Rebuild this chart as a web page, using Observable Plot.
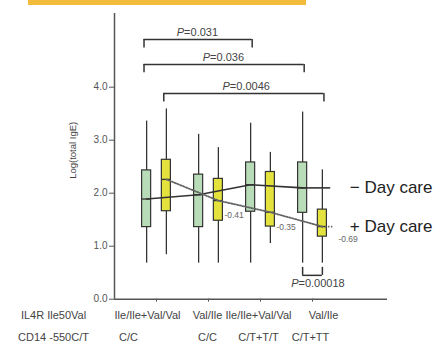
<!DOCTYPE html>
<html>
<head>
<meta charset="utf-8">
<script src="https://cdn.jsdelivr.net/npm/d3@7"></script>
<script src="https://cdn.jsdelivr.net/npm/@observablehq/plot@0.6"></script>
<style>
  html, body { margin: 0; padding: 0; background: #fff; }
  #wrap { position: relative; width: 440px; height: 347px; overflow: hidden; }
  #band { position: absolute; top: 0; left: 28px; width: 278px; height: 5px; background: #f2bb3b; }
  svg { display: block; }
</style>
</head>
<body>
<div id="wrap"><div id="band"></div></div>
<script>
// ---- data ----
const groups = [1, 2, 3, 4];
const il4rLabels = ["Ile/Ile+Val/Val", "Val/Ile", "Ile/Ile+Val/Val", "Val/Ile"];
const cd14Labels = ["C/C", "C/C", "C/T+T/T", "C/T+TT"];
const rowTitles = ["IL4R Ile50Val", "CD14 -550C/T"];
const seriesNames = ["\u2212 Day care", "+ Day care"];

// − Day care (green)
const noCareLow  = [0.68, 0.68, 0.68, 0.68];
const noCareQ1   = [1.36, 1.36, 1.65, 1.63];
const noCareMed  = [1.89, 1.97, 2.16, 2.10];
const noCareQ3   = [2.43, 2.35, 2.58, 2.58];
const noCareHigh = [3.36, 3.11, 3.32, 3.53];
// + Day care (yellow)
const careLow  = [0.84, 0.68, 1.05, 0.68];
const careQ1   = [1.66, 1.48, 1.37, 1.18];
const careMed  = [2.26, 1.86, 1.64, 1.37];
const careQ3   = [2.63, 2.27, 2.40, 1.69];
const careHigh = [3.59, 2.86, 2.77, 2.44];

const corrLabels = ["-0.41", "-0.35", "-0.69"]; // groups 2..4, + Day care
const yTicks = [0, 1, 2, 3, 4];

// comparisons: [group, series] pairs, p-value, bracket level (data units)
const compFrom  = [[1, "no"], [1, "no"], [1, "care"]];
const compTo    = [[3, "no"], [4, "no"], [4, "care"]];
const compP     = ["=0.031", "=0.036", "=0.0046"];
const compLevel = [4.90, 4.43, 3.88];
const bottomP = "=0.00018";
const bottomLevel = 0.45;

// ---- layout helpers ----
const off = 0.19, hw = 0.087;
const xmin = 10 / 52, xmax = 283 / 52, ymax = 5.39;
const posOf = ([g, s]) => g + (s === "no" ? -off : off);

const boxes = groups.flatMap((g, i) => [
  {g, series: "no", x: g - off, low: noCareLow[i], q1: noCareQ1[i], med: noCareMed[i], q3: noCareQ3[i], high: noCareHigh[i]},
  {g, series: "care", x: g + off, low: careLow[i], q1: careQ1[i], med: careMed[i], q3: careQ3[i], high: careHigh[i]}
]);
const noBoxes = boxes.filter(d => d.series === "no");
const careBoxes = boxes.filter(d => d.series === "care");

const comps = compP.map((p, i) => ({
  xa: posOf(compFrom[i]) - 0.05, xb: posOf(compTo[i]) + 0.03, p, level: compLevel[i]
}));
const lastNo = noBoxes[noBoxes.length - 1];
const lastCare = careBoxes[careBoxes.length - 1];
const bottomComp = [{xa: lastNo.x, xb: lastCare.x, p: bottomP, level: bottomLevel}];

const green = "#b9dcb8", yellow = "#e4e23c", ink = "#333";
const font = "'Liberation Sans', Arial, Helvetica, sans-serif";

const labelNudge1 = [-9, -1, -2, 11];
const labelNudge2 = [-28, -1, -2, -2];

const bracketMarks = (data, legUp) => [
  Plot.ruleY(data, {y: "level", x1: "xa", x2: "xb", stroke: ink, strokeWidth: 1.5}),
  Plot.ruleX(data, {x: "xa", y1: "level", y2: d => d.level + (legUp ? 0.15 : -0.16), stroke: ink, strokeWidth: 1.5}),
  Plot.ruleX(data, {x: "xb", y1: "level", y2: d => d.level + (legUp ? 0.15 : -0.16), stroke: ink, strokeWidth: 1.5})
];
const pLabelMarks = (data, dy, split, size) => [
  Plot.text(data, {x: d => (d.xa + d.xb) / 2, y: "level", dy, dx: split, text: () => "P", textAnchor: "end", fontStyle: "italic", fontSize: size, fill: "#444"}),
  Plot.text(data, {x: d => (d.xa + d.xb) / 2, y: "level", dy, dx: split, text: "p", textAnchor: "start", fontSize: size, fill: "#444"})
];

const chart = Plot.plot({
  width: 440,
  height: 347,
  marginLeft: 114,
  marginRight: 53,
  marginTop: 13,
  marginBottom: 48.3,
  x: {domain: [xmin, xmax], axis: null},
  y: {domain: [0, ymax], axis: null},
  style: {fontFamily: font, background: "transparent", overflow: "visible"},
  marks: [
    // axes
    Plot.axisY({ticks: yTicks, tickFormat: d3.format(".1f"), tickSize: 5, tickPadding: 2, fontSize: 10, color: "#555"}),
    Plot.axisX({ticks: groups, tickFormat: () => "", tickSize: 3, color: "#555"}),
    Plot.ruleX([xmin], {y1: 0, y2: ymax, stroke: "#555", strokeWidth: 1.5}),
    Plot.ruleY([0], {x1: xmin, x2: xmax, stroke: "#555", strokeWidth: 1.5}),
    Plot.text(["Log(total IgE)"], {frameAnchor: "left", textAnchor: "middle", dx: -42, dy: -6, rotate: -90, fontSize: 9.5, fill: "#444"}),
    // x labels
    ...il4rLabels.map((t, i) => Plot.text([t], {x: groups[i], frameAnchor: "bottom", textAnchor: "middle", dy: 20, dx: labelNudge1[i], fontSize: 11, fill: "#444"})),
    ...cd14Labels.map((t, i) => Plot.text([t], {x: groups[i], frameAnchor: "bottom", textAnchor: "middle", dy: 42, dx: labelNudge2[i], fontSize: 11, fill: "#444"})),
    Plot.text([rowTitles[0]], {frameAnchor: "bottom-left", textAnchor: "middle", dx: -61, dy: 20, fontSize: 11, fill: "#444"}),
    Plot.text([rowTitles[1]], {frameAnchor: "bottom-left", textAnchor: "middle", dx: -61, dy: 42, fontSize: 11, fill: "#444"}),
    // whiskers
    Plot.ruleX(boxes, {x: "x", y1: "low", y2: "high", stroke: ink, strokeWidth: 1.3}),
    // boxes
    Plot.rect(boxes, {x1: d => d.x - hw, x2: d => d.x + hw, y1: "q1", y2: "q3",
      fill: d => d.series === "no" ? green : yellow, stroke: ink, strokeWidth: 1.2}),
    Plot.ruleY(boxes, {y: "med", x1: d => d.x - hw, x2: d => d.x + hw, stroke: ink, strokeWidth: 1.3}),
    // median lines
    Plot.line(noBoxes, {x: "x", y: "med", stroke: ink, strokeWidth: 1.6}),
    Plot.ruleY([lastNo], {y: "med", x1: "x", x2: d => d.x + 0.54, stroke: ink, strokeWidth: 1.6}),
    Plot.line(careBoxes, {x: "x", y: "med", stroke: "#666", strokeWidth: 1.8, strokeDasharray: "1.5,1.5"}),
    Plot.ruleY([lastCare], {y: "med", x1: "x", x2: d => d.x + 0.21, stroke: "#666", strokeWidth: 1.8, strokeDasharray: "1.5,1.5"}),
    // correlation labels
    Plot.text(careBoxes.slice(1, 3), {x: "x", y: "med", text: (d, i) => corrLabels[i], textAnchor: "start", dx: 6, dy: 15, fontSize: 8.5, fill: "#666"}),
    Plot.text([lastCare], {x: "x", y: "med", text: () => corrLabels[2], textAnchor: "start", dx: 16, dy: 13, fontSize: 8.5, fill: "#666"}),
    // legend labels
    Plot.text([lastNo], {x: xmax, y: "med", text: () => seriesNames[0], textAnchor: "end", dx: 45, fontSize: 17, fill: "#222"}),
    Plot.text([lastCare], {x: xmax, y: "med", text: () => seriesNames[1], textAnchor: "end", dx: 45, fontSize: 17, fill: "#222"}),
    // significance brackets
    ...bracketMarks(comps, false),
    ...pLabelMarks(comps, -7, -14, 11),
    ...bracketMarks(bottomComp, true),
    ...pLabelMarks(bottomComp, 8, -14, 11)
  ]
});
document.getElementById("wrap").appendChild(chart);
</script>
</body>
</html>
